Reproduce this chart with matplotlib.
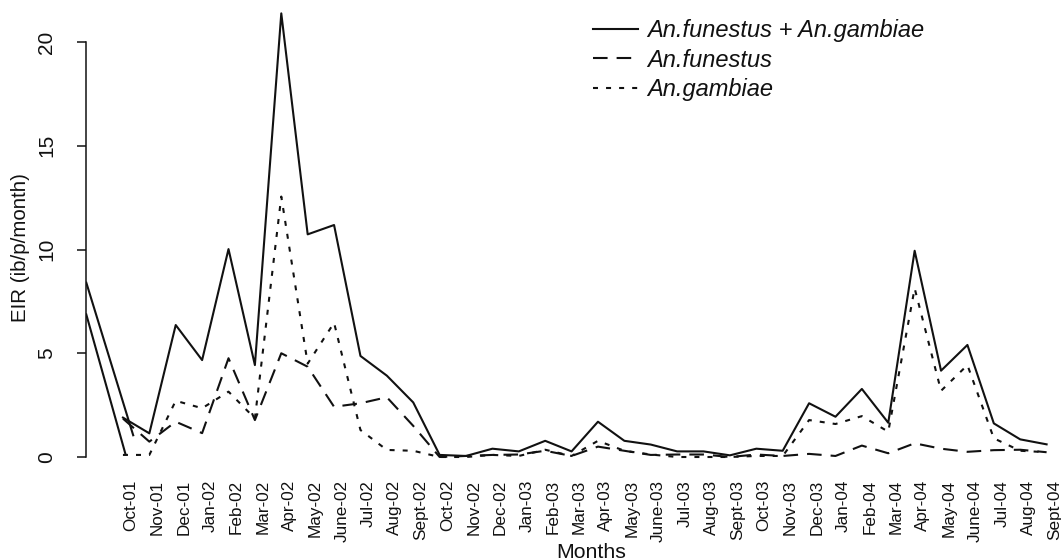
import matplotlib
matplotlib.use("Agg")
import matplotlib.pyplot as plt
from matplotlib.lines import Line2D

plt.rcParams['font.family'] = ['Liberation Sans', 'DejaVu Sans']
plt.rcParams['lines.scale_dashes'] = False

months = ['Oct-01', 'Nov-01', 'Dec-01', 'Jan-02', 'Feb-02', 'Mar-02', 'Apr-02', 'May-02',
          'June-02', 'Jul-02', 'Aug-02', 'Sept-02', 'Oct-02', 'Nov-02', 'Dec-02', 'Jan-03',
          'Feb-03', 'Mar-03', 'Apr-03', 'May-03', 'June-03', 'Jul-03', 'Aug-03', 'Sept-03',
          'Oct-03', 'Nov-03', 'Dec-03', 'Jan-04', 'Feb-04', 'Mar-04', 'Apr-04', 'May-04',
          'June-04', 'Jul-04', 'Aug-04', 'Sept-04']

total = [1.9, 1.14, 6.36, 4.67, 10.02, 4.43, 21.38, 10.73, 11.18, 4.87, 3.92, 2.63,
         0.1, 0.05, 0.4, 0.27, 0.78, 0.27, 1.7, 0.78, 0.6, 0.27, 0.27, 0.08,
         0.4, 0.3, 2.59, 1.94, 3.28, 1.65, 9.94, 4.16, 5.40, 1.62, 0.85, 0.61]
funestus = [1.85, 0.74, 1.70, 1.15, 4.76, 1.78, 5.0, 4.35, 2.42, 2.59, 2.88, 1.5,
            0.0, 0.05, 0.1, 0.12, 0.3, 0.05, 0.5, 0.3, 0.1, 0.12, 0.12, 0.0,
            0.12, 0.05, 0.15, 0.05, 0.55, 0.18, 0.66, 0.4, 0.25, 0.33, 0.35, 0.23]
gambiae = [0.1, 0.1, 2.71, 2.35, 3.15, 1.86, 12.55, 4.5, 6.47, 1.3, 0.34, 0.3,
           0.0, 0.0, 0.1, 0.05, 0.35, 0.05, 0.78, 0.3, 0.12, 0.0, 0.0, 0.0,
           0.05, 0.05, 1.78, 1.59, 1.97, 1.22, 8.13, 3.19, 4.43, 0.9, 0.3, 0.23]

# leading segments entering from the left edge of the plot region
stub_total_x = [-0.4, 1.4]
stub_total_y = [8.45, 1.0]
stub_gamb_x = [-0.4, 1.1]
stub_gamb_y = [6.92, 0.12]

legend_labels = ['An.funestus + An.gambiae', 'An.funestus', 'An.gambiae']
yticks = [0, 5, 10, 15, 20]

W, H = 1061, 560
fig = plt.figure(figsize=(W / 100, H / 100), dpi=100)
left_px, right_px, top_px, bottom_px = 86, 1061, 0, 475
ax = fig.add_axes([left_px / W, 1 - bottom_px / H, (right_px - left_px) / W, (bottom_px - top_px) / H])

x = list(range(1, len(months) + 1))
col = '#111111'
lw = 1.5
dash_style = (0, (10.5, 6.5))
dot_style = (0, (3.6, 5.8))

ax.plot(stub_total_x, stub_total_y, color=col, lw=lw, solid_capstyle='butt')
ax.plot(stub_gamb_x, stub_gamb_y, color=col, lw=lw, solid_capstyle='butt')
ax.plot(x, total, color=col, lw=lw, linestyle='-')
ax.plot(x, funestus, color=col, lw=lw, linestyle=dash_style)
ax.plot(x, gambiae, color=col, lw=lw, linestyle=dot_style)

px_per_unit = 26.39
ax.set_xlim(-0.4, -0.4 + (right_px - left_px) / px_per_unit)
y_ppu = 20.75
ax.set_ylim(-(bottom_px - 457) / y_ppu, (457 - top_px) / y_ppu)

for s in ['top', 'right', 'bottom']:
    ax.spines[s].set_visible(False)
ax.spines['left'].set_bounds(0, 20)
ax.spines['left'].set_linewidth(1.1)
ax.spines['left'].set_color(col)

ax.set_yticks(yticks)
ax.set_yticklabels([str(v) for v in yticks], rotation=90, va='center', fontsize=15)
ax.tick_params(axis='y', length=6.5, width=1.1, pad=15, colors=col)

ax.set_xticks([v + 0.3 for v in x])
ax.set_xticklabels(months, rotation=90, fontsize=12.3, va='top', ha='center')
ax.tick_params(axis='x', length=0, pad=3.5, colors=col)

fig.text(591 / W, 1 - 552 / H, 'Months', ha='center', va='center', fontsize=15.3, color=col)
fig.text(21 / W, 1 - 248 / H, 'EIR (ib/p/month)', ha='center', va='center',
         rotation=90, fontsize=14.8, color=col)

handles = [Line2D([], [], color=col, lw=lw, linestyle='-'),
           Line2D([], [], color=col, lw=lw, linestyle=dash_style),
           Line2D([], [], color=col, lw=lw, linestyle=dot_style)]
leg = fig.legend(handles, legend_labels, loc='upper left',
                 bbox_to_anchor=(593 / W, 1 - 19 / H), bbox_transform=fig.transFigure,
                 frameon=False, borderpad=0, borderaxespad=0, handlelength=1.9,
                 handletextpad=0.38, labelspacing=0.28,
                 prop={'style': 'italic', 'size': 17})
for t in leg.get_texts():
    t.set_color(col)

fig.savefig('out.png', dpi=100)
